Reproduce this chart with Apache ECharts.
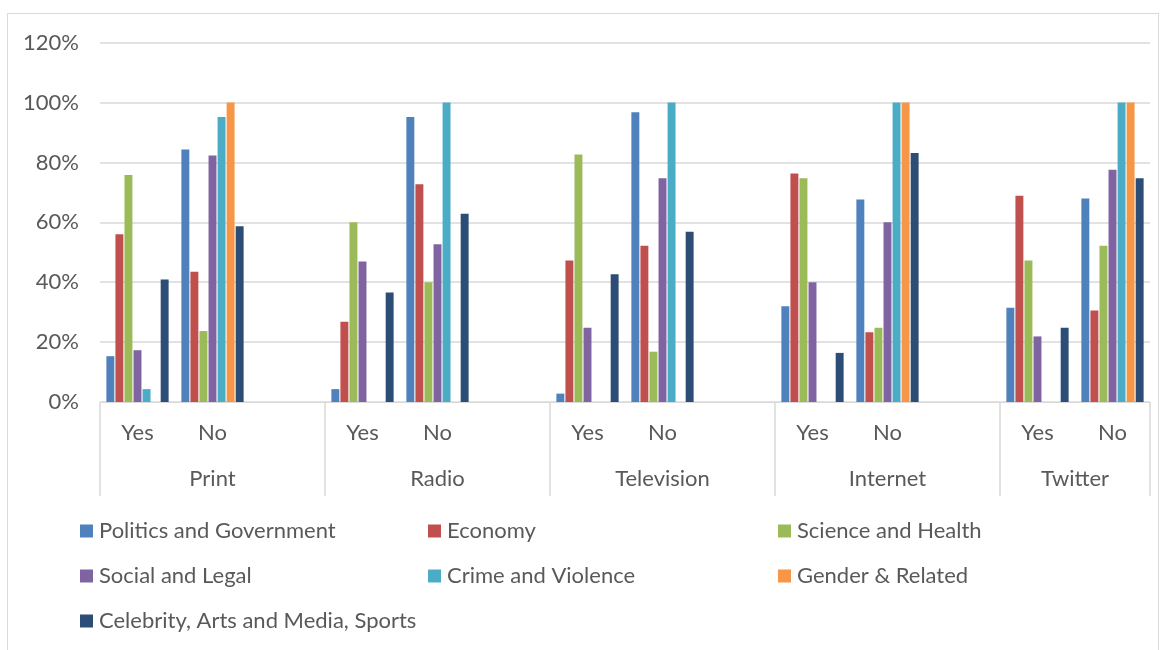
<!DOCTYPE html>
<html>
<head>
<meta charset="utf-8">
<script src="https://cdn.jsdelivr.net/npm/echarts@6/dist/echarts.min.js"></script>
<style>
  html, body { margin: 0; padding: 0; background: #fff; }
  #frame { position: absolute; left: 7px; top: 13px; width: 1152px; height: 660px; border: 1px solid #d9d9d9; box-sizing: border-box; }
  #main { position: absolute; left: 0; top: 0; width: 1165px; height: 650px; }
</style>
</head>
<body>
<div id="frame"></div>
<div id="main"></div>
<script>
// category slots: Yes / No / gap per media group (Twitter has no gap)
var categories = ['Yes', 'No', '', 'Yes', 'No', '', 'Yes', 'No', '', 'Yes', 'No', '', 'Yes', 'No'];
var groups = ['Print', 'Radio', 'Television', 'Internet', 'Twitter'];
var groupSpans = [3, 3, 3, 3, 2];
var yTicks = [0, 20, 40, 60, 80, 100, 120];

var topics = ['Politics and Government', 'Economy', 'Science and Health', 'Social and Legal',
    'Crime and Violence', 'Gender & Related', 'Celebrity, Arts and Media, Sports'];
var colors = ['#4F81BD', '#C0504D', '#9BBB59', '#8064A2', '#4BACC6', '#F79646', '#2C4D75'];

// values in %, null = empty slot
var politics  = [15.3, 84.3, null, 4.3, 95.2, null, 2.8, 96.8, null, 32.0, 67.6, null, 31.5, 68.0];
var economy   = [56.0, 43.5, null, 26.8, 72.7, null, 47.3, 52.2, null, 76.3, 23.3, null, 68.9, 30.6];
var science   = [75.8, 23.7, null, 60.0, 40.0, null, 82.7, 16.8, null, 74.7, 24.8, null, 47.3, 52.2];
var social    = [17.3, 82.3, null, 46.9, 52.7, null, 24.8, 74.7, null, 40.0, 60.0, null, 21.9, 77.6];
var crime     = [4.3, 95.2, null, 0, 100, null, 0, 100, null, 0, 100, null, 0, 100];
var gender    = [0, 100, null, 0, 0, null, 0, 0, null, 0, 100, null, 0, 100];
var celebrity = [40.9, 58.7, null, 36.6, 62.9, null, 42.7, 56.9, null, 16.4, 83.2, null, 24.8, 74.7];
var seriesData = [politics, economy, science, social, crime, gender, celebrity];

var chart = echarts.init(document.getElementById('main'));
var FONT = 'Lato';
var TXT = '#595959';
var FS = 22;

// group boundaries and centers, in slot units
var bounds = [0], centers = [];
groupSpans.forEach(function (s, i) {
    var start = bounds[i];
    bounds.push(start + s);
    centers.push(start + s / 2);
});

var series = seriesData.map(function (d, i) {
    return {
        name: topics[i],
        type: 'bar',
        data: d,
        barGap: '14%',
        barCategoryGap: '17%',
        itemStyle: { color: colors[i] }
    };
});

function legendCol(names, left) {
    return {
        orient: 'vertical',
        left: left,
        top: 520,
        padding: 0,
        data: names,
        icon: 'rect',
        itemWidth: 13,
        itemHeight: 13,
        itemGap: 23,
        selectedMode: false,
        textStyle: { color: TXT, fontFamily: FONT, fontSize: FS, lineHeight: 22, padding: [0, 0, 0, 1] }
    };
}

chart.setOption({
    animation: false,
    color: colors,
    grid: { left: 100, right: 15, top: 42.7, bottom: 248 },
    legend: [
        legendCol([topics[0], topics[3], topics[6]], 80),
        legendCol([topics[1], topics[4]], 428),
        legendCol([topics[2], topics[5]], 778)
    ],
    xAxis: [
        {
            type: 'category',
            data: categories,
            position: 'bottom',
            axisLine: { lineStyle: { color: '#d9d9d9', width: 1 } },
            axisTick: { show: false },
            axisLabel: { color: TXT, fontFamily: FONT, fontSize: FS, lineHeight: 22, margin: 20, interval: 0 }
        },
        {
            type: 'value',
            min: 0,
            max: categories.length,
            position: 'bottom',
            axisLine: { show: false },
            splitLine: { show: false },
            axisTick: { show: true, customValues: bounds, length: 94, lineStyle: { color: '#d9d9d9', width: 1.5 } },
            axisLabel: {
                customValues: centers,
                color: TXT, fontFamily: FONT, fontSize: FS, lineHeight: 22, margin: 66,
                formatter: function (v) {
                    var idx = centers.indexOf(v);
                    return idx >= 0 ? groups[idx] : '';
                }
            }
        }
    ],
    yAxis: {
        type: 'value',
        min: yTicks[0],
        max: yTicks[yTicks.length - 1],
        interval: 20,
        axisLine: { show: false },
        axisTick: { show: false },
        splitLine: { lineStyle: { color: '#d9d9d9', width: 1.5 } },
        axisLabel: { color: TXT, fontFamily: FONT, fontSize: FS, margin: 21, formatter: '{value}%' }
    },
    series: series
});
</script>
</body>
</html>
